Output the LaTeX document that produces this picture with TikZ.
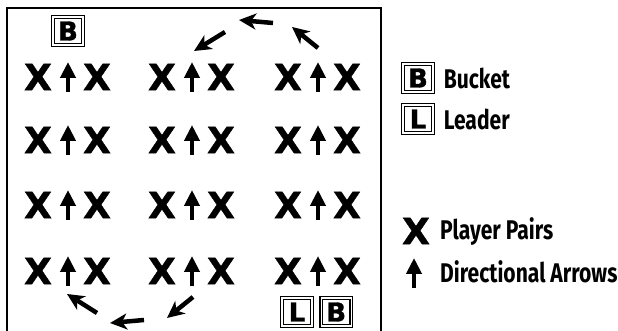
\documentclass[tikz,border=0pt]{standalone}
\usepackage{fontspec}
\setmainfont{Fira Sans}
\newfontfamily\heavyfont[FakeBold=1.2]{DejaVu Sans}
\usetikzlibrary{arrows.meta, positioning}

\tikzset{
  player/.style={inner sep=0pt, font=\heavyfont\bfseries\fontsize{36}{36}\selectfont},
  uparrow/.style={line width=4.5pt, -{Triangle[length=16pt, width=15pt]}},
  turnarrow/.style={line width=4.5pt, -{Stealth[length=17pt, width=16pt, inset=5pt]}},
  tagbox/.style={draw, double, line width=1.2pt, double distance=1.4pt, minimum width=30pt,
    minimum height=28pt, inner sep=0pt, font=\heavyfont\bfseries\fontsize{26}{26}\selectfont},
  legendtext/.style={anchor=west, inner sep=0pt, font=\bfseries\fontsize{27}{27}\selectfont}
}

\begin{document}
\begin{tikzpicture}[x=1pt, y=1pt]
  \useasboundingbox (0,0) rectangle (618,331);
  % field
  \draw[line width=1.6pt] (7,-2) -- (7,323) -- (381,323) -- (381,-2);

  % player pairs with their arrows
  \foreach \cx [count=\i] in {68,192,318} {
    \foreach \cy [count=\j] in {254,191,126,60} {
      \node[player] (xl-\i-\j) at (\cx-30,\cy) {X};
      \node[player] (xr-\i-\j) at (\cx+29,\cy) {X};
      \draw[uparrow] (\cx,\cy-15) -- (\cx,\cy+15);
    }
  }

  % buckets and leader
  \node[tagbox] (bucket1) at (68,300) {B};
  \node[tagbox] (leader) at (297,19) {L};
  \node[tagbox, right=8pt of leader] (bucket2) {B};

  % rotation
  \draw[turnarrow] (225,299) -- (194,280);
  \draw[turnarrow] (273,308) -- (239,311);
  \draw[turnarrow] (318,283) -- (292,304);
  \draw[turnarrow] (97,18) -- (67,37);
  \draw[turnarrow] (144,11) -- (110,8);
  \draw[turnarrow] (193,34) -- (167,13);

  % legend
  \node[tagbox] (keyb) at (418,253) {B};
  \node[legendtext, right=10pt of keyb] (keybt) {\scalebox{0.78}[1]{Bucket}};
  \node[tagbox] (keyl) at (418,212) {L};
  \node[legendtext, right=10pt of keyl] (keylt) {\scalebox{0.78}[1]{Leader}};
  \node[player] (keyx) at (416,100) {X};
  \node[legendtext] (keyxt) at (440,99) {\scalebox{0.78}[1]{Player Pairs}};
  \coordinate (keya) at (414,58);
  \draw[uparrow] ([yshift=-15pt]keya) -- ([yshift=15pt]keya);
  \node[legendtext] (keyat) at (440,59) {\scalebox{0.78}[1]{Directional Arrows}};
\end{tikzpicture}
\end{document}
